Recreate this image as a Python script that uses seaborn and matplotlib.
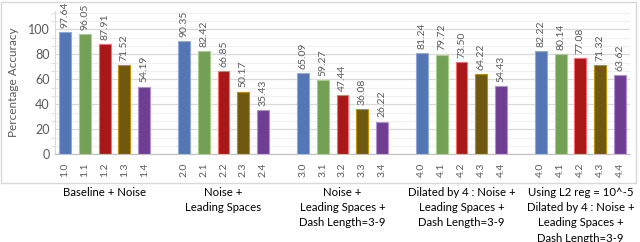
import numpy as np
import pandas as pd
import matplotlib
matplotlib.use("Agg")
import matplotlib.pyplot as plt
import seaborn as sns
from matplotlib.patches import Rectangle
from matplotlib.transforms import blended_transform_factory
from matplotlib.ticker import MultipleLocator

# Chart data
group_names = [
    "Baseline + Noise",
    "Noise +\nLeading Spaces",
    "Noise +\nLeading Spaces +\nDash Length=3-9",
    "Dilated by 4 : Noise +\nLeading Spaces +\nDash Length=3-9",
    "Using L2 reg = 10^-5\nDilated by 4 : Noise +\nLeading Spaces +\nDash Length=3-9",
]
g1_labels = ["1.0", "1.1", "1.2", "1.3", "1.4"]
g2_labels = ["2.0", "2.1", "2.2", "2.3", "2.4"]
g3_labels = ["3.0", "3.1", "3.2", "3.3", "3.4"]
g4_labels = ["4.0", "4.1", "4.2", "4.3", "4.4"]
g5_labels = ["4.0", "4.1", "4.2", "4.3", "4.4"]
g1_values = [97.64, 96.05, 87.91, 71.52, 54.19]
g2_values = [90.35, 82.42, 66.85, 50.17, 35.43]
g3_values = [65.09, 59.27, 47.44, 36.08, 26.22]
g4_values = [81.24, 79.72, 73.50, 64.22, 54.43]
g5_values = [82.22, 80.14, 77.08, 71.32, 63.62]

colors = ["#4472C4", "#70AD47", "#C00000", "#7F6000", "#7030A0"]
edge_colors = ["#8FAADC", "#A9D18E", "#FF6B6B", "#BF9000", "#B48ED6"]
text_gray = "#595959"

all_labels = [g1_labels, g2_labels, g3_labels, g4_labels, g5_labels]
all_values = [g1_values, g2_values, g3_values, g4_values, g5_values]

# build long table, with an empty slot between groups
rows = []
order = []
tick_text = []
for gi, (labs, vals) in enumerate(zip(all_labels, all_values)):
    for mi, (lab, val) in enumerate(zip(labs, vals)):
        key = f"g{gi}_{lab}"
        rows.append({"slot": key, "value": val, "member": mi})
        order.append(key)
        tick_text.append(lab)
    if gi < len(all_labels) - 1:
        order.append(f"gap{gi}")
        tick_text.append("")
df = pd.DataFrame(rows)

sns.set_style("white")
plt.rcParams["font.family"] = ["Lato", "DejaVu Sans"]

fig = plt.figure(figsize=(6.4, 2.42), dpi=100)
ax = fig.add_axes([55 / 640, 1 - 154.3 / 242, 575 / 640, 143.8 / 242])

sns.barplot(
    data=df, x="slot", y="value", hue="member", order=order,
    palette=colors, dodge=False, width=0.6, legend=False, ax=ax,
    linewidth=0.8,
)
# lighter outline per member, like the original
for bar_container, ec in zip(ax.containers, edge_colors):
    for p in bar_container:
        p.set_edgecolor(ec)

# value labels
for bar_container in ax.containers:
    ax.bar_label(bar_container, fmt="%.2f", rotation=90, padding=3,
                 fontsize=7.5, color=text_gray)

ax.set_ylim(0, 115)
ax.set_xlim(-0.5, len(order) - 0.5)
ax.yaxis.set_minor_locator(MultipleLocator(20 / 3))
ax.set_yticks([0, 20, 40, 60, 80, 100])
ax.grid(axis="y", which="major", color="#D9D9D9", linewidth=0.9)
ax.grid(axis="y", which="minor", color="#F0F0F0", linewidth=0.8)
ax.set_axisbelow(True)

ax.set_xticks(range(len(order)))
ax.set_xticklabels(tick_text, rotation=90, fontsize=7.5, color=text_gray)
ax.set_xticks(np.arange(-0.5, len(order), 1), minor=True)
ax.tick_params(axis="x", which="major", length=0, pad=6)
ax.tick_params(axis="x", which="minor", length=4, color="#BFBFBF", width=0.8)
ax.tick_params(axis="y", which="major", labelsize=9, colors=text_gray, length=0, pad=4)
ax.tick_params(axis="y", which="minor", left=True, length=3, color="#D9D9D9")

ax.set_xlabel("")
ax.set_ylabel("Percentage Accuracy", fontsize=8.5, color=text_gray, labelpad=6)

for side in ["top", "right"]:
    ax.spines[side].set_visible(False)
ax.spines["left"].set_color("#D9D9D9")
ax.spines["bottom"].set_color("#BFBFBF")

# group labels below the category labels
trans = blended_transform_factory(ax.transData, ax.transAxes)
for gi, name in enumerate(group_names):
    center = gi * 6 + 2
    ax.text(center, -0.23, name, transform=trans, ha="center", va="top",
            fontsize=8.2, linespacing=1.45, color="black")

# chart border
fig.patches.append(Rectangle((1 / 640, 1 - 183 / 242), 635 / 640, 181 / 242,
                             transform=fig.transFigure, fill=False,
                             edgecolor="#D9D9D9", linewidth=1))

fig.savefig("out.png", dpi=100)
